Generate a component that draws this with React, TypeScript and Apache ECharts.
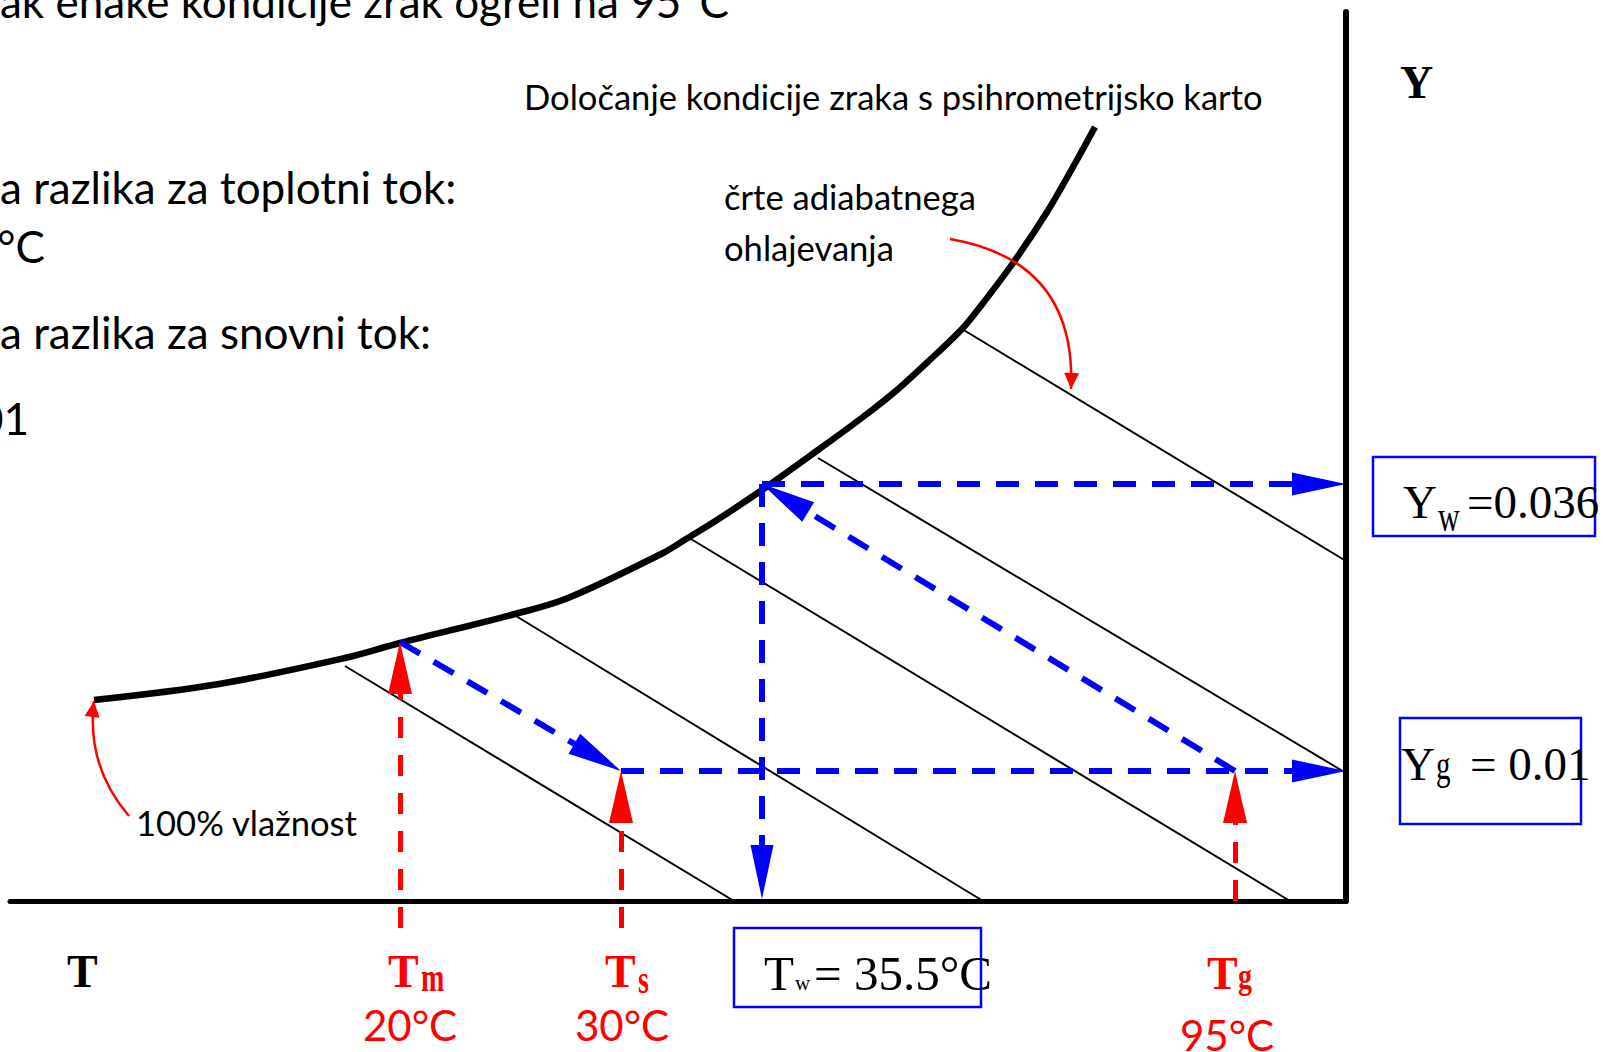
import { useEffect, useRef } from "react";
import * as echarts from "echarts";

// Schematic psychrometric plane: temperature T along x, humidity Y along y.
// One drawing unit equals one pixel of the plot area.
const X_MAX = 1336;
const Y_MAX = 889;

// 100 % humidity (saturation) curve
const saturationT = [84, 209, 335, 390, 505, 558, 653, 676, 707, 752, 808, 853, 887, 923, 952, 970, 1003, 1037, 1063, 1085];
const saturationY = [201, 217, 243, 258, 287, 303, 348, 362, 381, 411, 451, 484, 511, 544, 572, 594, 638, 689, 734, 774];

// adiabatic cooling lines (start on / near the saturation curve, end on an axis)
const adiabatFrom = [[335, 235], [506, 285], [676, 365], [808, 443], [952, 572]];
const adiabatTo = [[724, 0], [973, 0], [1280, 0], [1336, 128], [1336, 340]];

// state points
const pointTm = [390, 259];
const pointTs = [611, 130];
const pointTw = [752, 417];
const pointTg = [1225, 130];
const levelYw = 417;
const levelYg = 130;
const dropFoot = -27; // red drop lines start just below the T axis

const blueArrows = [
  { from: pointTm, to: pointTs },
  { from: pointTs, to: [X_MAX, levelYg] },
  { from: pointTg, to: pointTw },
  { from: pointTw, to: [X_MAX, levelYw] },
  { from: pointTw, to: [pointTw[0], 2] },
];

const redArrows = [
  { from: [pointTm[0], dropFoot], to: pointTm },
  { from: [pointTs[0], dropFoot], to: pointTs },
  { from: [pointTg[0], 0], to: pointTg },
];

// curved red pointers to the labels "100% vlažnost" and "črte adiabatnega ohlajevanja"
const pointerFrom = [[119, 85], [940, 662]];
const pointerTo = [[84, 200], [1061, 512]];
const pointerBend = [0.22, 0.44];

const BLUE = "#0000FF";
const RED = "#FF0000";
const BLUE_HEAD = [23, 54];
const RED_HEAD = [24, 52];
const POINTER_HEAD = [15, 16];

const SANS = "Lato, 'Noto Sans', sans-serif";
const SERIF = "'Liberation Serif', 'Times New Roman', serif";
const SANS_MID = 0.387;
const SERIF_MID = 0.3374;
const B = 44;
const R = 42;
const S = 34.6;

function shorten(from: number[], to: number[], by: number) {
  const dx = to[0] - from[0];
  const dy = to[1] - from[1];
  const d = Math.hypot(dx, dy) || 1;
  return [to[0] - (dx / d) * by, to[1] - (dy / d) * by];
}

function controlPoint(from: number[], to: number[], c: number) {
  return [(from[0] + to[0]) / 2 + (from[1] - to[1]) * c, (from[1] + to[1]) / 2 + (to[0] - from[0]) * c];
}

type LabelOpts = { serif?: boolean; bold?: boolean; color?: string; align?: string };

function label(text: string, x: number, baseline: number, size: number, o: LabelOpts = {}) {
  const mid = o.serif ? SERIF_MID : SANS_MID;
  const align = o.align || "left";
  return {
    type: "text",
    x,
    y: baseline - mid * size,
    silent: true,
    z: 50,
    style: {
      text,
      fill: o.color || "#000",
      font: `${o.bold ? "bold" : "normal"} ${size}px ${o.serif ? SERIF : SANS}`,
      align,
      textAlign: align,
      verticalAlign: "middle",
      textVerticalAlign: "middle",
    },
  };
}

// subscript letters are drawn taller than wide; inkCenter is the visual middle of the glyph
function subscript(text: string, x: number, inkCenter: number, size: number, stretch: number, descends: boolean, o: LabelOpts = {}) {
  const off = (descends ? 0.2175 : 0.1075) * size * stretch;
  return {
    type: "text",
    x,
    y: inkCenter - off,
    scaleY: stretch,
    silent: true,
    z: 50,
    style: {
      text,
      fill: o.color || "#000",
      font: `${o.bold ? "bold" : "normal"} ${size}px ${SERIF}`,
      align: "left",
      textAlign: "left",
      verticalAlign: "middle",
      textVerticalAlign: "middle",
    },
  };
}

function box(x: number, y: number, width: number, height: number) {
  return {
    type: "rect",
    silent: true,
    z: 40,
    shape: { x, y, width, height },
    style: { fill: "none", stroke: BLUE, lineWidth: 2.5 },
  };
}

function headRenderer(color: string) {
  return (_params: any, api: any) => {
    const tip = api.coord([api.value(0), api.value(1)]);
    const ref = api.coord([api.value(2), api.value(3)]);
    const w = api.value(4);
    const len = api.value(5);
    let dx = tip[0] - ref[0];
    let dy = tip[1] - ref[1];
    const d = Math.hypot(dx, dy) || 1;
    dx /= d;
    dy /= d;
    const bx = tip[0] - dx * len;
    const by = tip[1] - dy * len;
    const nx = (-dy * w) / 2;
    const ny = (dx * w) / 2;
    return {
      type: "polygon",
      shape: { points: [tip, [bx + nx, by + ny], [bx - nx, by - ny]] },
      style: { fill: color },
    };
  };
}

export default function App() {
  const ref = useRef<HTMLDivElement>(null);

  useEffect(() => {
    if (!ref.current) return;
    const chart = echarts.init(ref.current, null, { renderer: "svg" });

    const saturation = saturationT.map((t, i) => [t, saturationY[i]]);
    const adiabats = adiabatFrom.map((p, i) => ({ coords: [p, adiabatTo[i]] }));
    const blueLines = blueArrows.map((a) => ({ coords: [a.from, shorten(a.from, a.to, BLUE_HEAD[1] * 0.55)] }));
    const redLines = redArrows.map((a) => ({ coords: [a.from, shorten(a.from, a.to, RED_HEAD[1] * 0.55)] }));
    const pointers = pointerFrom.map((p, i) => ({
      coords: [p, pointerTo[i]],
      lineStyle: { curveness: pointerBend[i] },
    }));
    const blueHeads = blueArrows.map((a) => [a.to[0], a.to[1], a.from[0], a.from[1], BLUE_HEAD[0], BLUE_HEAD[1]]);
    const redHeads = [
      ...redArrows.map((a) => [a.to[0], a.to[1], a.from[0], a.from[1], RED_HEAD[0], RED_HEAD[1]]),
      ...pointerFrom.map((p, i) => {
        const cp = controlPoint(p, pointerTo[i], pointerBend[i]);
        return [pointerTo[i][0], pointerTo[i][1], cp[0], cp[1], POINTER_HEAD[0], POINTER_HEAD[1]];
      }),
    ];

    const hidden = { show: false };

    chart.setOption({
      animation: false,
      backgroundColor: "#fff",
      grid: { left: 10, right: 257, top: 12, bottom: 151, containLabel: false },
      xAxis: {
        type: "value",
        min: 0,
        max: X_MAX,
        axisLine: { show: true, onZero: false, lineStyle: { color: "#000", width: 5 } },
        axisTick: hidden,
        axisLabel: hidden,
        splitLine: hidden,
      },
      yAxis: {
        type: "value",
        position: "right",
        min: 0,
        max: Y_MAX,
        axisLine: { show: true, onZero: false, lineStyle: { color: "#000", width: 6 } },
        axisTick: hidden,
        axisLabel: hidden,
        splitLine: hidden,
      },
      series: [
        {
          type: "lines",
          coordinateSystem: "cartesian2d",
          clip: false,
          silent: true,
          z: 2,
          lineStyle: { color: "#000", width: 2, opacity: 1 },
          data: adiabats,
        },
        {
          type: "line",
          clip: false,
          silent: true,
          z: 3,
          symbol: "none",
          smooth: 0.35,
          lineStyle: { color: "#000", width: 6.5, join: "round" },
          data: saturation,
        },
        {
          type: "lines",
          coordinateSystem: "cartesian2d",
          clip: false,
          silent: true,
          z: 4,
          lineStyle: { color: BLUE, width: 6, type: [23, 16], opacity: 1, cap: "butt" },
          data: blueLines,
        },
        {
          type: "lines",
          coordinateSystem: "cartesian2d",
          clip: false,
          silent: true,
          z: 5,
          lineStyle: { color: RED, width: 5, type: [21, 17], opacity: 1, cap: "butt" },
          data: redLines,
        },
        {
          type: "lines",
          coordinateSystem: "cartesian2d",
          clip: false,
          silent: true,
          z: 5,
          lineStyle: { color: RED, width: 2.5, opacity: 1 },
          data: pointers,
        },
        {
          type: "custom",
          silent: true,
          clip: false,
          z: 6,
          renderItem: headRenderer(BLUE),
          data: blueHeads,
        },
        {
          type: "custom",
          silent: true,
          clip: false,
          z: 6,
          renderItem: headRenderer(RED),
          data: redHeads,
        },
      ],
      graphic: [
        label("ak enake kondicije zrak ogreli na 95°C", 0, 18, B),
        label("a razlika za toplotni tok:", 0, 204, B),
        label("5°C", 45, 263, B, { align: "right" }),
        label("a razlika za snovni tok:", 0, 349, B),
        label("0.01", 29, 435, B, { align: "right" }),
        label("Določanje kondicije zraka s psihrometrijsko karto", 524, 110, S),
        label("črte adiabatnega", 724, 210, S),
        label("ohlajevanja", 724, 261, S),
        label("100% vlažnost", 136, 836, S),

        label("T", 67, 987, 46, { serif: true, bold: true }),
        label("Y", 1400, 98, 46, { serif: true, bold: true }),

        label("T", 388, 987, 46, { serif: true, bold: true, color: RED }),
        subscript("m", 421, 981.5, 28, 1.45, false, { bold: true, color: RED }),
        label("20°C", 410, 1041, R, { align: "center", color: RED }),

        label("T", 605, 987, 46, { serif: true, bold: true, color: RED }),
        subscript("s", 638, 983.5, 28, 1.45, false, { bold: true, color: RED }),
        label("30°C", 622, 1041, R, { align: "center", color: RED }),

        label("T", 1207, 989, 46, { serif: true, bold: true, color: RED }),
        subscript("g", 1238, 983.5, 28, 1.3, true, { bold: true, color: RED }),
        label("95°C", 1227, 1051, R, { align: "center", color: RED }),

        box(1373, 457, 222, 79),
        label("Y", 1403, 518, 47, { serif: true }),
        subscript("w", 1438, 521, 30, 1.46, false),
        label("=0.036", 1467, 518, 47, { serif: true }),

        box(1400, 718, 181, 106),
        label("Y", 1401, 780, 47, { serif: true }),
        subscript("g", 1436, 774, 29, 1.42, true),
        label("= 0.01", 1470, 780, 47, { serif: true }),

        box(734, 928, 247, 79),
        label("T", 764, 990, 49, { serif: true }),
        label("w", 795, 990, 21, { serif: true }),
        label("= 35.5°C", 814, 990, 49, { serif: true }),
      ],
    });

    return () => chart.dispose();
  }, []);

  return (
    <div
      ref={ref}
      style={{ position: "fixed", left: 0, top: 0, width: 1603, height: 1052, background: "#fff" }}
    />
  );
}
